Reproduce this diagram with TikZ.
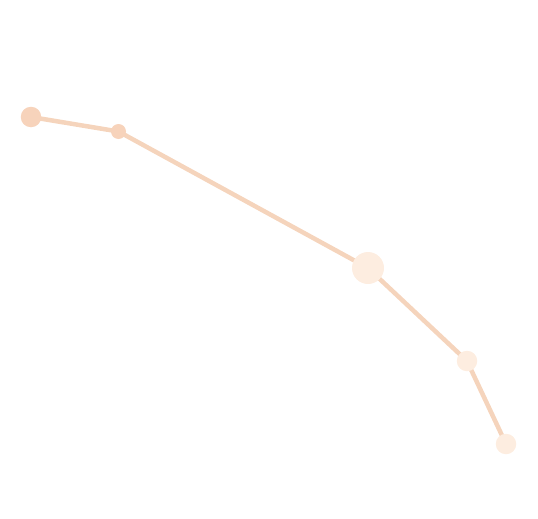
\documentclass[tikz,border=0pt]{standalone}
\definecolor{peachdark}{HTML}{F7D3BB}
\definecolor{peachlight}{HTML}{FDEDE0}
\definecolor{edgecol}{HTML}{F5D4BC}
\pgfdeclarelayer{bg}
\pgfsetlayers{bg,main}
\begin{document}
\begin{tikzpicture}[x=1pt,y=-1pt,
  dot/.style={circle,inner sep=0pt,minimum size=#1,draw=none},
  link/.style={draw=edgecol,line width=4.5pt}]
\useasboundingbox (0,0) rectangle (538,519);
\node[dot=20.5pt,fill=peachdark] (a) at (31,117) {};
\node[dot=15pt,fill=peachdark] (b) at (118.5,131.5) {};
\node[dot=32pt,fill=peachlight] (c) at (368,268) {};
\node[dot=20.5pt,fill=peachlight] (d) at (467,361) {};
\node[dot=20.5pt,fill=peachlight] (e) at (506,444) {};
\begin{pgfonlayer}{bg}
\draw[link] (a.center) -- (b.center);
\draw[link] (b.center) -- (c.center);
\draw[link] (c.center) -- (d.center);
\draw[link] (d.center) -- (e.center);
\end{pgfonlayer}
\end{tikzpicture}
\end{document}
